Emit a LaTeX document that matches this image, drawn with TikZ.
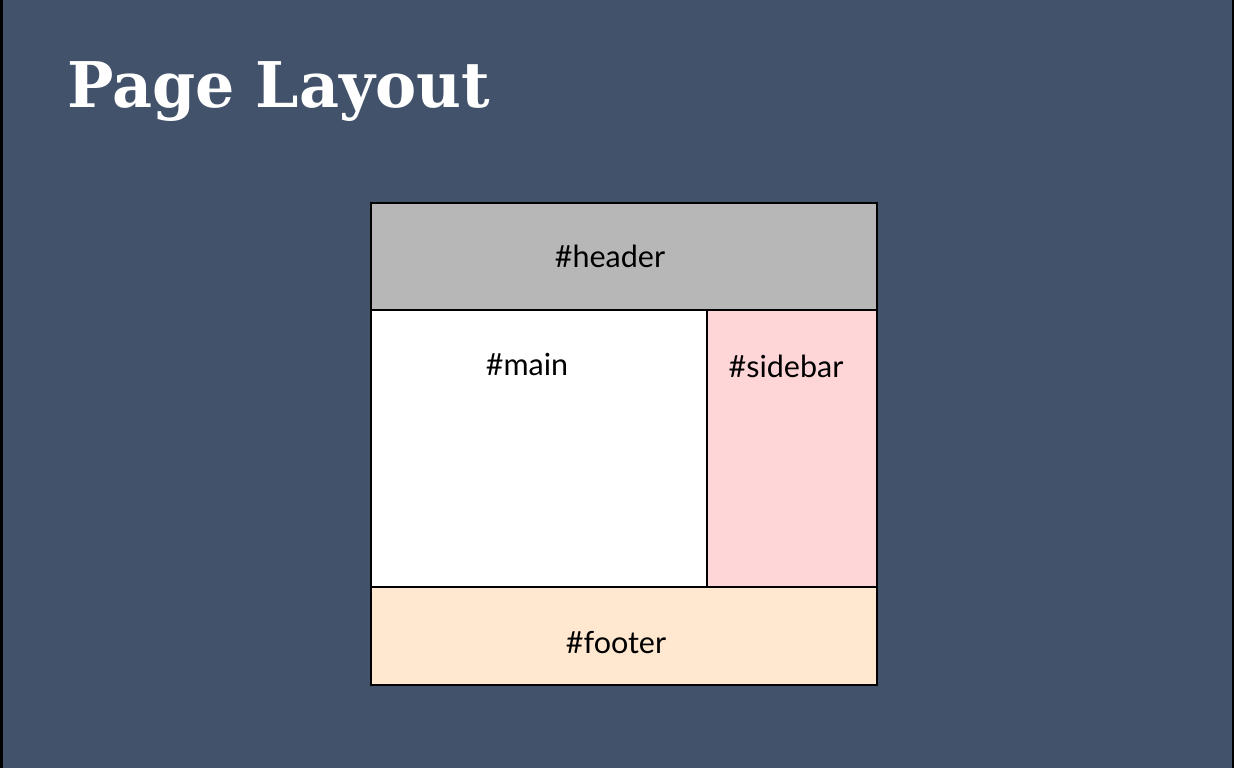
\documentclass[tikz,border=0pt]{standalone}
\usepackage{fontspec}
\setmainfont{Lato}
\newfontfamily\titlefont{DejaVu Serif}
\definecolor{bg}{HTML}{42526B}
\definecolor{hdr}{HTML}{B7B7B7}
\definecolor{side}{HTML}{FFD6D7}
\definecolor{foot}{HTML}{FFE8CF}
\tikzset{
  region/.style={draw=black, line width=1.5pt},
  lbl/.style={font=\fontsize{30.5}{34}\selectfont, text=black, inner sep=0pt},
}
\begin{document}
\begin{tikzpicture}[x=1pt,y=-1pt]
\useasboundingbox (0,0) rectangle (1234,768);
\fill[black] (0,0) rectangle (1234,768);
\fill[bg] (3,0) rectangle (1232,768);
\node[anchor=base west, inner sep=0pt, text=white, xscale=0.98] (title) at (67,107)
  {\titlefont\bfseries\fontsize{63}{72}\selectfont Page Layout};
\fill[hdr] (371,203) rectangle (877,310);
\fill[white] (371,310) rectangle (707,587);
\fill[side] (707,310) rectangle (877,587);
\fill[foot] (371,587) rectangle (877,685);
\draw[region] (371,203) rectangle (877,310);
\draw[region] (371,310) rectangle (707,587);
\draw[region] (707,310) rectangle (877,587);
\draw[region] (371,587) rectangle (877,685);
\node[lbl, anchor=base] (header) at (610,267) {\#header};
\node[lbl, anchor=base] (main) at (527,375) {\#main};
\node[lbl, anchor=base] (sidebar) at (786,377) {\#sidebar};
\node[lbl, anchor=base] (footer) at (616,653) {\#footer};
\end{tikzpicture}
\end{document}
